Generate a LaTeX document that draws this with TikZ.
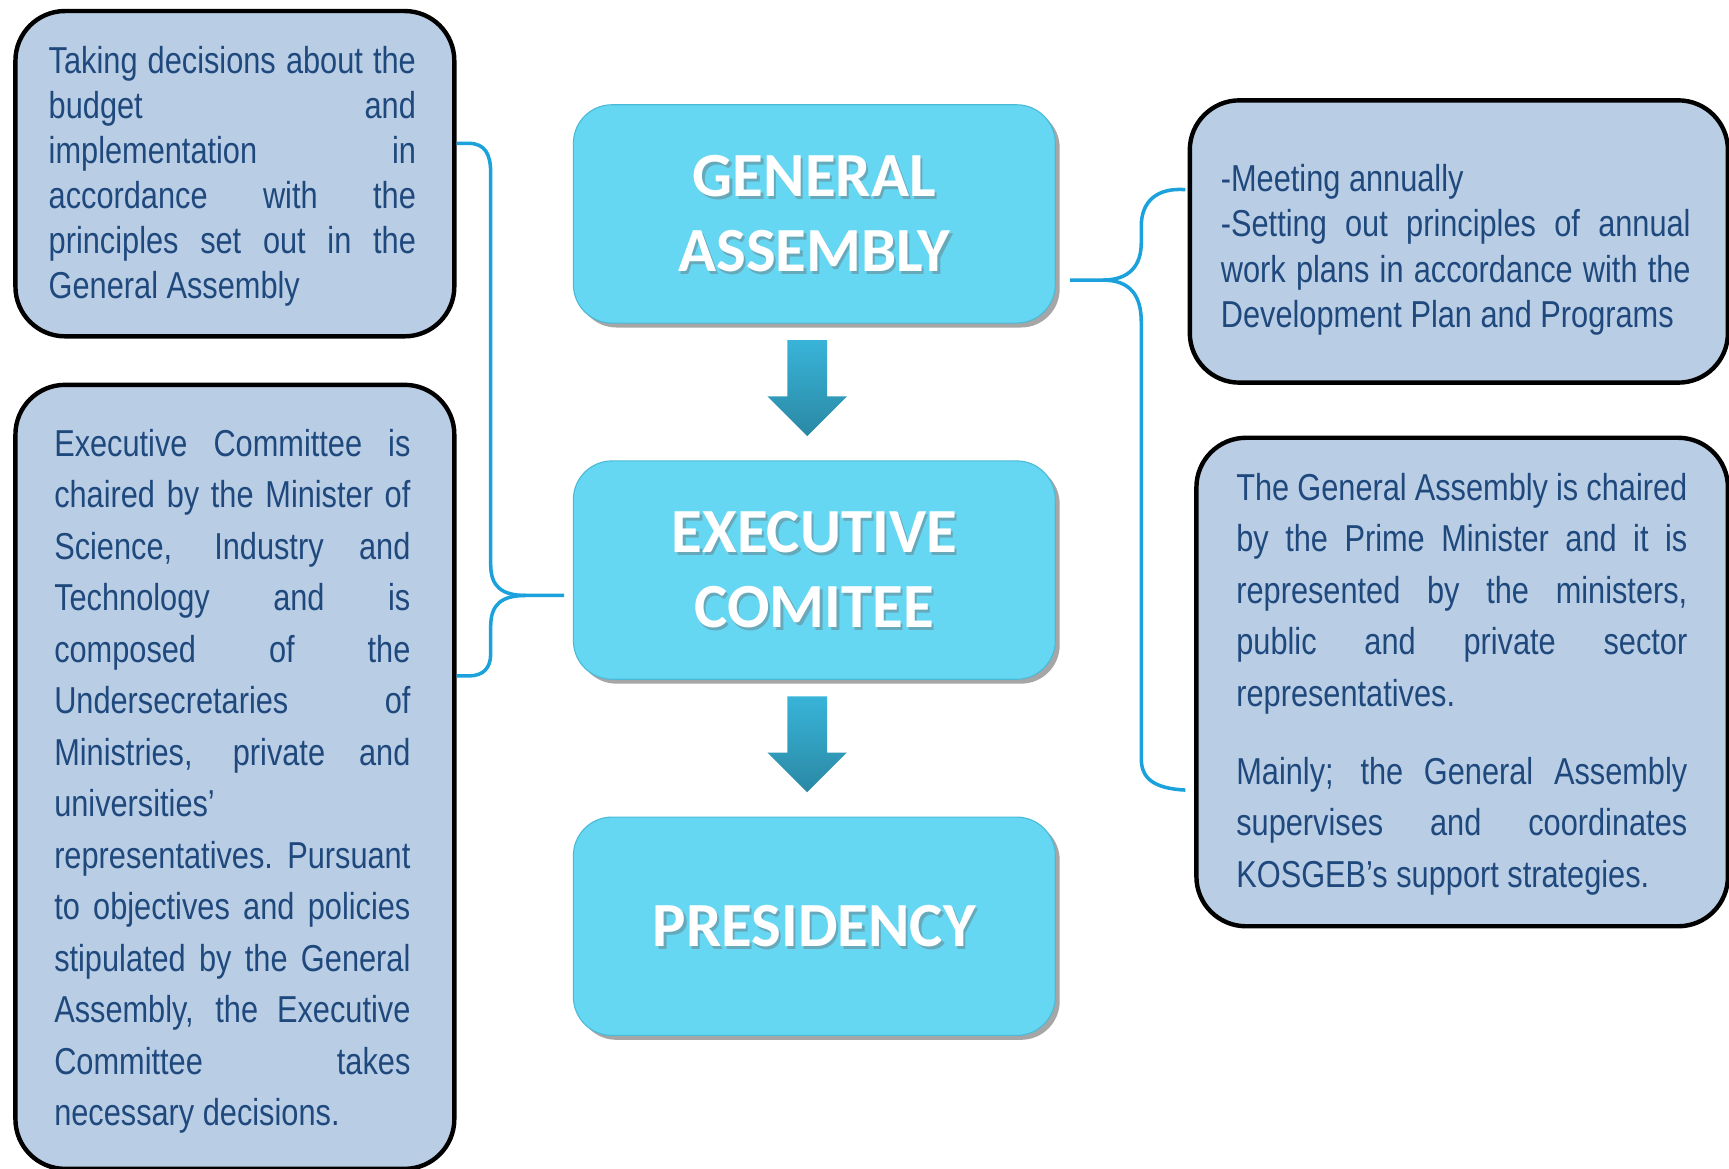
\documentclass[tikz,border=0pt]{standalone}
\usepackage{fontspec}
\setmainfont{Liberation Sans}
\newfontfamily\narfont[FakeStretch=0.82]{Liberation Sans}
\newfontfamily\calfont{Carlito}
\usetikzlibrary{shadows,calc}
\definecolor{boxfill}{HTML}{B9CDE5}
\definecolor{txtblue}{HTML}{1F497D}
\definecolor{cfill}{HTML}{66D7F3}
\definecolor{cedge}{HTML}{4BBAD8}
\definecolor{bracecol}{HTML}{1BA1DC}
\definecolor{arrtop}{HTML}{38B4D8}
\definecolor{arrbot}{HTML}{2A88A4}
\newcommand\JL[2]{\makebox[#1][s]{#2}}
\begin{document}
\begin{tikzpicture}[x=1pt,y=-1pt,
  sidebox/.style={draw=black,line width=4pt,fill=boxfill,rounded corners=45pt,anchor=north west,inner sep=0pt},
  cbox/.style={fill=cfill,draw=cedge,line width=1pt,rounded corners=35pt,minimum width=437pt,minimum height=198pt,inner sep=0pt,
    drop shadow={shadow xshift=4pt,shadow yshift=-4pt,opacity=0.35,fill=black}},
  ctext/.style={text=white,align=center,font=\calfont\bfseries\fontsize{57}{68}\selectfont,inner sep=0pt},
  cshadow/.style={ctext,text=black!60,opacity=0.4},
  narrowtext/.style={anchor=north west,inner sep=0pt,align=left,text=txtblue,font=\narfont\fontsize{34}{40.7}\selectfont},
  bracel/.style={draw=bracecol,line width=3.2pt},
  downarrow/.style={top color=arrtop,bottom color=arrbot,draw=none}]
\useasboundingbox (0,0) rectangle (1568,1060);

% side boxes
\node[sidebox,minimum width=398pt,minimum height=295pt] (tl) at (12,8) {};
\node[sidebox,minimum width=398pt,minimum height=711pt] (bl) at (12,347) {};
\node[sidebox,minimum width=488pt,minimum height=256pt] (tr) at (1077,89) {};
\node[sidebox,minimum width=482pt,minimum height=443pt] (br) at (1083,395) {};

% central boxes
\node[cbox] (ga) at (738.5,194) {};
\node[cbox] (ec) at (738.5,517) {};
\node[cbox] (pr) at (738.5,840) {};

\node[cshadow] at ($(ga)+(2,2.5)$) {GENERAL\\ASSEMBLY};
\node[ctext] (gat) at (ga) {GENERAL\\ASSEMBLY};
\node[cshadow] at ($(ec)+(2,2.5)$) {EXECUTIVE\\COMITEE};
\node[ctext] (ect) at (ec) {EXECUTIVE\\COMITEE};
\node[cshadow] at ($(pr)+(2,2.5)$) {PRESIDENCY};
\node[ctext] (prt) at (pr) {PRESIDENCY};

% arrows
\shade[downarrow] ($(ga.south)+(-24.5,15)$) -- ++(36,0) -- ++(0,51) -- ++(18,0) -- ++(-36,36) -- ++(-36,-36) -- ++(18,0) -- cycle;
\shade[downarrow] ($(ec.south)+(-24.5,15)$) -- ++(36,0) -- ++(0,51) -- ++(18,0) -- ++(-36,36) -- ++(-36,-36) -- ++(18,0) -- cycle;

% left brace
\coordinate (lbt) at ($(tl.north east)+(0,122)$);
\coordinate (lbb) at ($(bl.north east)+(0,266)$);
\coordinate (lbtip) at ($(ec.west)+(-8,23)$);
\draw[bracel] (lbt) -- (425,130) .. controls (440,130) and (445,140) .. (445,157) -- (445,512)
  .. controls (445,532) and (455,540) .. (477,540) -- (lbtip);
\draw[bracel] (477,540) .. controls (455,540) and (445,548) .. (445,568) -- (445,593)
  .. controls (445,606) and (438,613) .. (425,613) -- (lbb);

% right brace
\coordinate (rbtip) at ($(ga.east)+(13,60)$);
\coordinate (rbt) at ($(tr.west)+(-2,-47)$);
\coordinate (rbb) at ($(br.west)+(-8,98)$);
\draw[bracel] (rbtip) -- (1000,254) .. controls (1025,254) and (1035,240) .. (1035,220) -- (1035,205)
  .. controls (1035,182) and (1050,170) .. (rbt);
\draw[bracel] (1000,254) .. controls (1025,254) and (1035,268) .. (1035,292) -- (1035,688)
  .. controls (1035,705) and (1045,715) .. (rbb);

% texts
\node[narrowtext] (tlt) at (44,42) {%
\JL{333pt}{Taking decisions about the}\\
\JL{333pt}{budget and}\\
\JL{333pt}{implementation in}\\
\JL{333pt}{accordance with the}\\
\JL{333pt}{principles set out in the}\\
General Assembly};

\node[narrowtext,font=\narfont\fontsize{34}{41}\selectfont] (trt) at (1107,149) {%
-Meeting annually\\
\JL{426pt}{-Setting out principles of annual}\\
\JL{426pt}{work plans in accordance with the}\\
Development Plan and Programs};

\node[narrowtext,font=\narfont\fontsize{34}{46.7}\selectfont] (brt) at (1121,429) {%
\JL{409pt}{The General Assembly is chaired}\\
\JL{409pt}{by the Prime Minister and it is}\\
\JL{409pt}{represented by the ministers,}\\
\JL{409pt}{public and private sector}\\
representatives.\\[24pt]
\JL{409pt}{Mainly; the General Assembly}\\
\JL{409pt}{supervises and coordinates}\\
KOSGEB’s support strategies.};

\node[narrowtext,font=\narfont\fontsize{34}{46.7}\selectfont] (blt) at (49,389) {%
\JL{323pt}{Executive Committee is}\\
\JL{323pt}{chaired by the Minister of}\\
\JL{323pt}{Science, Industry and}\\
\JL{323pt}{Technology and is}\\
\JL{323pt}{composed of the}\\
\JL{323pt}{Undersecretaries of}\\
\JL{323pt}{Ministries, private and}\\
universities’\\
\JL{323pt}{representatives. Pursuant}\\
\JL{323pt}{to objectives and policies}\\
\JL{323pt}{stipulated by the General}\\
\JL{323pt}{Assembly, the Executive}\\
\JL{323pt}{Committee takes}\\
necessary decisions.};
\end{tikzpicture}
\end{document}
